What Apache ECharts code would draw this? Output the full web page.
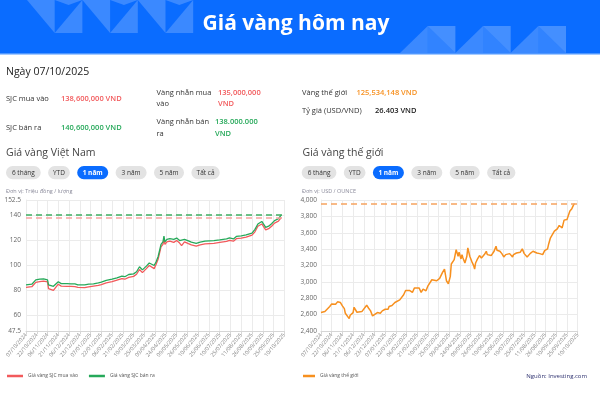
<!DOCTYPE html>
<html><head><meta charset="utf-8">
<script src="https://cdn.jsdelivr.net/npm/echarts@6/dist/echarts.min.js"></script>
<style>html,body{margin:0;padding:0;background:#fff}#c{width:600px;height:394px}</style>
</head><body><div id="c"></div>
<script>
// ---------- texts ----------
const pageTitle = 'Giá vàng hôm nay';
const reportDate = 'Ngày 07/10/2025';
const infoLabels = ['SJC mua vào', 'SJC bán ra', 'Vàng nhẫn mua\nvào', 'Vàng nhẫn bán\nra', 'Vàng thế giới', 'Tỷ giá (USD/VND)'];
const infoValues = ['138,600,000 VND', '140,600,000 VND', '135,000,000\nVND', '138.000.000\nVND', '125,534,148 VND', '26.403 VND'];
const rangeButtons = ['6 tháng', 'YTD', '1 năm', '3 năm', '5 năm', 'Tất cả'];
const activeRange = '1 năm';
const vnTitle = 'Giá vàng Việt Nam';
const worldTitle = 'Giá vàng thế giới';
const vnUnit = 'Đơn vị: Triệu đồng / lượng';
const worldUnit = 'Đơn vị: USD / OUNCE';
const seriesNames = ['Giá vàng SJC mua vào', 'Giá vàng SJC bán ra', 'Giá vàng thế giới'];
const sourceNote = 'Nguồn: Investing.com';

// ---------- axes ----------
const firstDay = '2024-10-07';
const lastDay = '2025-10-10';
const vnTickValues = [47.5, 60, 80, 100, 120, 140, 152.5];
const worldMin = 2400, worldMax = 4000, worldStep = 200;

// ---------- data (index = trading-day position on the axis) ----------
const vnIdx = [0,2,6,8,10,14,18,20,22,23,25,28,30,33,36,42,46,48,50,53,60,64,69,74,77,82,88,89,93,98,101,105,110,113,116,119,123,126,128,131,133,135,138,140,141,142,144,147,151,154,157,159,162,166,169,174,178,183,192,198,205,208,212,215,220,225,231,234,237,241,243,245,248,251,254,258,260,261];
const sjcSell = [84.5,84.3,85,85.5,88.5,89,89.3,88.8,88.5,84.5,83.8,83.3,84.5,87,85.5,85.5,85.3,86.7,85.3,84.5,84.5,85,85.3,86,86.7,88,89,89.5,90,91.5,91,92.8,93.3,95,99,96.5,99.5,102,101.5,100,103,107,117,119,123.5,119,121,121.5,121,122,120,118.5,121,119.8,118.8,117.8,118.7,119.5,120,120.5,121.3,122.2,121.3,123.3,123.8,124.5,126,129,133.3,135.3,134,130.5,131.5,133.5,136,137.5,137.8,140.6];
const sjcBuy = [82.5,82.3,83,83.5,86.5,87,87.5,87,86.8,81.5,80.5,80,81.5,85,83.5,83.3,83.2,84.8,83,82.5,82.2,82.8,83.5,84,84.7,86,87,87,88.3,89.5,89,90.5,91.3,93,96.8,94.3,97.5,100,99.3,97.5,101,105,115,117,121.3,117,119,119.5,118.5,120,118,116,119,117.5,116.5,115.5,116.5,117.3,117.8,118.5,119.3,120.2,119.5,121.5,122,122.8,124.3,127,131.5,133.3,132,128.5,129.5,131.5,134,135.5,136,138.6];
const goldIdx = [0,2,4,6,9,11,13,15,17,18,20,22,24,25,27,29,30,33,34,36,37,39,42,44,47,49,51,53,55,58,61,63,66,69,70,73,76,78,81,85,87,89,91,94,96,98,101,103,105,108,110,114,116,119,122,125,127,128,129,131,133,134,135,137,138,139,141,142,144,145,146,148,150,151,153,155,157,158,159,161,163,165,166,168,170,171,173,175,178,180,181,184,186,188,190,192,194,197,198,201,203,205,207,209,210,212,215,218,220,222,225,228,230,233,234,236,238,240,242,243,245,247,248,250,252,253,255,256,258,259,260,261];
const goldUsd = [2625,2609,2637,2658,2699,2731,2719,2727,2756,2772,2748,2707,2674,2617,2596,2551,2592,2625,2690,2690,2629,2641,2637,2658,2715,2678,2646,2584,2605,2625,2617,2646,2666,2666,2699,2711,2748,2756,2780,2842,2895,2871,2895,2871,2924,2944,2924,2871,2912,2891,2952,3026,3042,3014,3042,3116,3157,3087,3014,2977,3067,3218,3210,3272,3333,3394,3313,3362,3280,3333,3292,3231,3313,3415,3313,3251,3198,3157,3231,3280,3321,3292,3304,3333,3374,3333,3353,3321,3374,3435,3386,3374,3345,3304,3333,3321,3345,3304,3333,3353,3333,3362,3403,3345,3321,3304,3345,3374,3353,3353,3345,3333,3382,3403,3456,3538,3558,3619,3640,3648,3689,3673,3660,3754,3771,3763,3832,3865,3894,3906,3947,3950];

// ---------- build ----------
function tradingDays(a, b) {
  const out = [];
  const d = new Date(a + 'T00:00:00Z'), end = new Date(b + 'T00:00:00Z');
  while (d <= end) {
    const w = d.getUTCDay();
    if (w !== 0 && w !== 6) {
      const dd = String(d.getUTCDate()).padStart(2, '0');
      const mm = String(d.getUTCMonth() + 1).padStart(2, '0');
      out.push(dd + '/' + mm + '/' + d.getUTCFullYear());
    }
    d.setUTCDate(d.getUTCDate() + 1);
  }
  return out;
}
const days = tradingDays(firstDay, lastDay);
const pairs = (idx, v) => idx.map((x, i) => [x, v[i]]);

const FONT = 'Open Sans';
const BLUE = '#0a6cff';
const RED = '#f25a5c', GREEN = '#26a95a', ORANGE = '#f7901f';

const g = [];
// header band
g.push({type: 'rect', shape: {x: 0, y: 0, width: 600, height: 54}, style: {fill: BLUE}, silent: true});
g.push({type: 'rect', shape: {x: 0, y: 53, width: 600, height: 1.6}, style: {fill: '#4f97ff'}, silent: true});
const LIGHT = 'rgba(255,255,255,0.2)';
for (let p = 0; p < 3; p++) {
  const x0 = 27 + p * 55.4, w = 27.7;
  g.push({type: 'polygon', shape: {points: [[x0, 0], [x0 + w, 0], [x0 + w, 33]]}, style: {fill: LIGHT}, silent: true});
  g.push({type: 'polygon', shape: {points: [[x0 + w, 33], [x0 + 2 * w, 33], [x0 + 2 * w, 0]]}, style: {fill: LIGHT}, silent: true});
  g.push({type: 'polygon', shape: {points: [[x0 + w, 0], [x0 + 1.5 * w, 5], [x0 + 2 * w, 0]]}, style: {fill: LIGHT}, silent: true});
}
for (let p = 0; p < 3; p++) {
  const x0 = 400 + p * 55.3, w = 27.7;
  g.push({type: 'polygon', shape: {points: [[x0, 53], [x0 + w, 53], [x0 + w, 26]]}, style: {fill: LIGHT}, silent: true});
  g.push({type: 'polygon', shape: {points: [[x0 + w, 26], [x0 + w, 53], [x0 + 2 * w, 53]]}, style: {fill: 'rgba(255,255,255,0.16)'}, silent: true});
  g.push({type: 'polygon', shape: {points: [[x0 + w, 26], [x0 + 2 * w, 26], [x0 + 2 * w, 53]]}, style: {fill: 'rgba(255,255,255,0.24)'}, silent: true});
}
function txt(x, y, s, opt) {
  opt = opt || {};
  g.push({type: 'text', x: x, y: y, silent: true, style: {
    text: s, fill: opt.fill || '#333', fontSize: opt.size || 7.5, fontFamily: FONT,
    fontWeight: opt.weight || 'normal', textAlign: opt.align || 'left',
    textVerticalAlign: opt.valign || 'middle', lineHeight: opt.lh || 11.5
  }});
}
txt(296, 24, pageTitle, {fill: '#fff', size: 21, weight: 'bold', align: 'center'});
txt(6, 72.5, reportDate, {fill: '#222', size: 10.5});
// info block
txt(6, 99, infoLabels[0], {fill: '#333'});
txt(61, 99, infoValues[0], {fill: RED, weight: 600});
txt(6, 127.5, infoLabels[1], {fill: '#333'});
txt(61, 127.5, infoValues[1], {fill: GREEN, weight: 600});
txt(156.5, 87, infoLabels[2], {fill: '#333', valign: 'top'});
txt(218, 87, infoValues[2], {fill: RED, weight: 600, valign: 'top'});
txt(156.5, 116.5, infoLabels[3], {fill: '#333', valign: 'top'});
txt(215, 116.5, infoValues[3], {fill: GREEN, weight: 600, valign: 'top'});
txt(302, 92.5, infoLabels[4], {fill: '#333'});
txt(356.5, 92.5, infoValues[4], {fill: ORANGE, weight: 600});
txt(302, 111, infoLabels[5], {fill: '#333'});
txt(375, 111, infoValues[5], {fill: '#222', weight: 600});
// section titles
txt(6, 153.5, vnTitle, {fill: '#444', size: 10.5});
txt(302.5, 153.5, worldTitle, {fill: '#444', size: 10.5});
// range pills
const pillW = [34.7, 21.7, 31, 31, 30, 28.3];
function pills(x0) {
  let x = x0;
  rangeButtons.forEach((b, i) => {
    const on = b === activeRange;
    g.push({type: 'rect', silent: true, shape: {x: x, y: 166, width: pillW[i], height: 13.3, r: 6.6}, style: {fill: on ? BLUE : '#e3e3e3'}});
    txt(x + pillW[i] / 2, 172.8, b, {fill: on ? '#fff' : '#333', size: 6.5, weight: on ? 'bold' : 'normal', align: 'center'});
    x += pillW[i] + 7.4;
  });
}
pills(6);
pills(301.7);
txt(6, 191.5, vnUnit, {fill: '#8a8a9a', size: 5.5});
txt(302, 191.5, worldUnit, {fill: '#8a8a9a', size: 5.5});
txt(587, 376.5, sourceNote, {fill: '#2c2f6e', size: 6, align: 'right'});

const GRIDC = '#ebebeb';
function xAxisCfg(gi) {
  return {
    type: 'category', gridIndex: gi, data: days, boundaryGap: false,
    axisLine: {lineStyle: {color: '#d6d6d6'}},
    axisTick: {show: true, interval: 10, length: 3, lineStyle: {color: '#d6d6d6'}},
    axisLabel: {interval: 10, rotate: 50, fontSize: 5.5, color: '#888', margin: 3, fontFamily: FONT},
    splitLine: {show: true, interval: 10, lineStyle: {color: GRIDC}}
  };
}
function dashed(color, v) {
  return {symbol: 'none', silent: true, label: {show: false}, emphasis: {disabled: true},
    lineStyle: {type: [6, 4], width: 1.5, color: color}, data: [{yAxis: v}]};
}

const option = {
  animation: false,
  backgroundColor: '#fff',
  textStyle: {fontFamily: FONT},
  graphic: {elements: g},
  grid: [
    {left: 26, top: 200, width: 258.3, height: 131},
    {left: 321, top: 200, width: 256.7, height: 131}
  ],
  xAxis: [xAxisCfg(0), xAxisCfg(1)],
  yAxis: [
    {type: 'value', gridIndex: 0, min: vnTickValues[0], max: vnTickValues[vnTickValues.length - 1],
      axisLine: {show: true, lineStyle: {color: GRIDC}}, axisTick: {show: false, customValues: vnTickValues},
      axisLabel: {customValues: vnTickValues, fontSize: 6.5, color: '#666', margin: 5, fontFamily: FONT},
      splitLine: {lineStyle: {color: GRIDC}}},
    {type: 'value', gridIndex: 1, min: worldMin, max: worldMax, interval: worldStep,
      axisLine: {show: true, lineStyle: {color: GRIDC}}, axisTick: {show: false},
      axisLabel: {fontSize: 6.5, color: '#666', margin: 4, fontFamily: FONT,
        formatter: v => v.toLocaleString('en-US')},
      splitLine: {lineStyle: {color: GRIDC}}}
  ],
  legend: [
    {data: [seriesNames[0], seriesNames[1]], left: 7, top: 373.5, padding: 0, icon: 'rect',
      itemWidth: 16, itemHeight: 2.5, itemGap: 11, textStyle: {fontSize: 5, color: '#555', fontFamily: FONT}},
    {data: [seriesNames[2]], left: 303, top: 373.5, padding: 0, icon: 'rect',
      itemWidth: 12, itemHeight: 2.5, textStyle: {fontSize: 5, color: '#555', fontFamily: FONT}}
  ],
  series: [
    {name: seriesNames[0], type: 'line', xAxisIndex: 0, yAxisIndex: 0, data: pairs(vnIdx, sjcBuy),
      showSymbol: false, lineStyle: {width: 1.3, color: RED}, itemStyle: {color: RED},
      markLine: dashed('#f7a3a3', sjcBuy[sjcBuy.length - 1])},
    {name: seriesNames[1], type: 'line', xAxisIndex: 0, yAxisIndex: 0, data: pairs(vnIdx, sjcSell),
      showSymbol: false, lineStyle: {width: 1.3, color: GREEN}, itemStyle: {color: GREEN},
      markLine: dashed('#3fae62', sjcSell[sjcSell.length - 1])},
    {name: seriesNames[2], type: 'line', xAxisIndex: 1, yAxisIndex: 1, data: pairs(goldIdx, goldUsd),
      showSymbol: false, lineStyle: {width: 1.5, color: ORANGE}, itemStyle: {color: ORANGE},
      markLine: dashed('#f6a460', goldUsd[goldUsd.length - 1])}
  ]
};
const chart = echarts.init(document.getElementById('c'), null, {renderer: 'canvas'});
chart.setOption(option);
</script>
</body></html>
